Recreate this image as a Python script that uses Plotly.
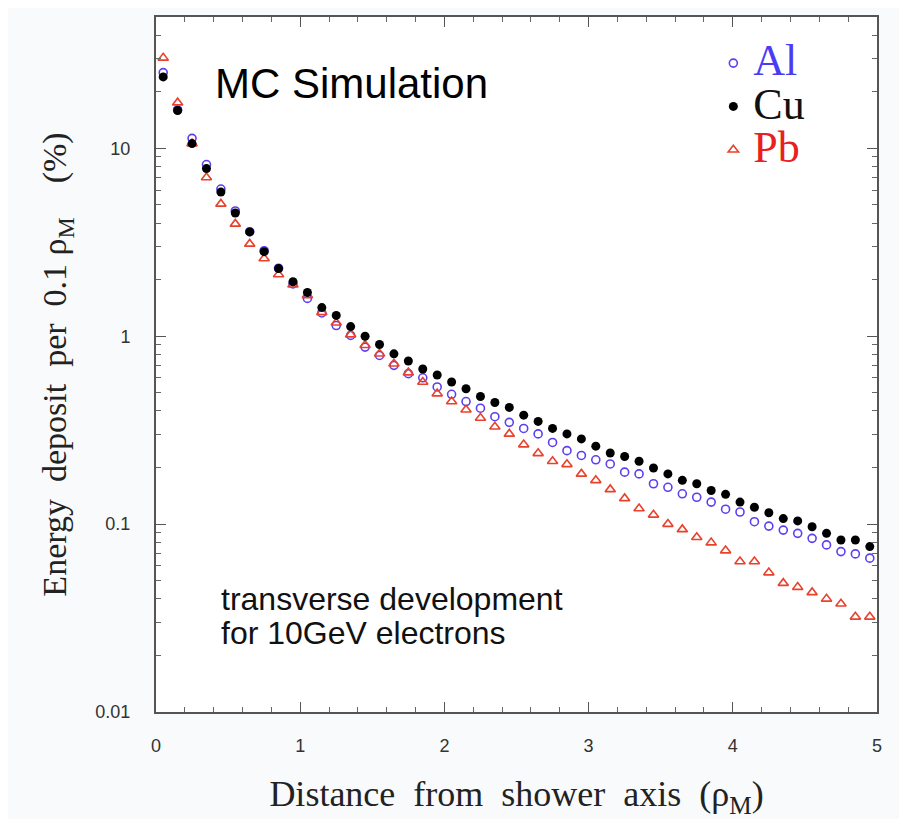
import plotly.graph_objects as go

# bin centres (units of Moliere radius)
distance = [0.05, 0.15, 0.25, 0.35, 0.45, 0.55, 0.65, 0.75, 0.85, 0.95,
            1.05, 1.15, 1.25, 1.35, 1.45, 1.55, 1.65, 1.75, 1.85, 1.95,
            2.05, 2.15, 2.25, 2.35, 2.45, 2.55, 2.65, 2.75, 2.85, 2.95,
            3.05, 3.15, 3.25, 3.35, 3.45, 3.55, 3.65, 3.75, 3.85, 3.95,
            4.05, 4.15, 4.25, 4.35, 4.45, 4.55, 4.65, 4.75, 4.85, 4.95]

al = [25.3, 16.0, 11.3, 8.2, 6.07, 4.64, 3.6, 2.85, 2.3, 1.9,
      1.59, 1.33, 1.14, 1.01, 0.875, 0.79, 0.70, 0.632, 0.601, 0.537,
      0.491, 0.449, 0.414, 0.373, 0.348, 0.323, 0.302, 0.272, 0.246, 0.232,
      0.220, 0.209, 0.189, 0.185, 0.164, 0.157, 0.145, 0.139, 0.131, 0.120,
      0.116, 0.103, 0.0976, 0.0929, 0.0893, 0.0840, 0.0775, 0.0714, 0.0694, 0.0659]

cu = [24.0, 15.9, 10.6, 7.8, 5.85, 4.53, 3.59, 2.82, 2.29, 1.95,
      1.71, 1.42, 1.29, 1.125, 1.0, 0.904, 0.806, 0.738, 0.669, 0.622,
      0.571, 0.525, 0.478, 0.444, 0.418, 0.380, 0.352, 0.323, 0.302, 0.284,
      0.260, 0.239, 0.229, 0.216, 0.199, 0.185, 0.171, 0.164, 0.151, 0.144,
      0.131, 0.123, 0.115, 0.107, 0.104, 0.0968, 0.0893, 0.0823, 0.0823, 0.0759]

pb = [30.3, 17.5, 10.6, 7.0, 5.06, 3.96, 3.1, 2.59, 2.13, 1.88,
      1.65, 1.34, 1.18, 1.02, 0.896, 0.806, 0.714, 0.64, 0.571, 0.495,
      0.449, 0.406, 0.367, 0.330, 0.302, 0.265, 0.238, 0.216, 0.208, 0.185,
      0.171, 0.153, 0.137, 0.121, 0.112, 0.100, 0.0937, 0.0851, 0.0797, 0.0723,
      0.0632, 0.0632, 0.0552, 0.0485, 0.0462, 0.0433, 0.0400, 0.0377, 0.0321, 0.0321]

x_ticks = [0, 1, 2, 3, 4, 5]
y_ticks = [0.01, 0.1, 1, 10]
y_tick_text = ["0.01", "0.1", "1", "10"]

AL_COL = "#5b3ff0"
CU_COL = "#000000"
PB_COL = "#e8412c"

fig = go.Figure()
fig.add_trace(go.Scatter(
    x=distance, y=al, mode="markers", legendrank=1,
    name="<span style='font-size:44px;color:#4a3cf2'>Al</span>",
    marker=dict(symbol="circle-open", size=8, color=AL_COL, line=dict(width=1.6, color=AL_COL))))
fig.add_trace(go.Scatter(
    x=distance, y=pb, mode="markers", legendrank=3,
    name="<span style='font-size:44px;color:#e82020'>Pb</span>",
    marker=dict(symbol="triangle-up-open", size=9, color=PB_COL, line=dict(width=1.6, color=PB_COL))))
fig.add_trace(go.Scatter(
    x=distance, y=cu, mode="markers", legendrank=2,
    name="<span style='font-size:44px;color:#111111'>Cu</span>",
    marker=dict(symbol="circle", size=9, color=CU_COL)))

axis_common = dict(
    showline=True, linecolor="#555555", linewidth=2, mirror="allticks",
    ticks="inside", tickcolor="#555555", showgrid=False, zeroline=False,
    tickfont=dict(family="Liberation Sans, Arial, sans-serif", size=18, color="#333333"),
)

fig.update_xaxes(
    range=[0, 5], tickvals=x_ticks, ticklen=10, tickwidth=1.2,
    ticklabelstandoff=16,
    minor=dict(dtick=0.2, ticks="inside", ticklen=5, tickcolor="#666666", tickwidth=1),
    title=dict(text="Distance  from  shower  axis  (ρ<sub>M</sub>)\u00a0\u00a0\u00a0",
               font=dict(family="Liberation Serif, Times New Roman, serif", size=36, color="#222222"),
               standoff=31),
    **axis_common)

fig.update_yaxes(
    type="log", range=[-2, 1.699], tickvals=y_ticks, ticktext=y_tick_text,
    ticklen=10, tickwidth=1.2, ticklabelstandoff=20,
    minor=dict(ticks="inside", ticklen=5, tickcolor="#666666", tickwidth=1,
               tickvals=[0.02, 0.03, 0.04, 0.05, 0.06, 0.07, 0.08, 0.09,
                         0.2, 0.3, 0.4, 0.5, 0.6, 0.7, 0.8, 0.9,
                         2, 3, 4, 5, 6, 7, 8, 9, 20, 30, 40]),
    title=dict(text="Energy  deposit  per  0.1 ρ<sub>M</sub>    (%)",
               font=dict(family="Liberation Serif, Times New Roman, serif", size=34, color="#222222"),
               standoff=18),
    **axis_common)

fig.add_annotation(xref="paper", yref="paper", x=0.079, y=0.905, xanchor="left", yanchor="middle",
                   text="MC Simulation", showarrow=False,
                   font=dict(family="Liberation Sans, Arial, sans-serif", size=42, color="#000000"))
fig.add_annotation(xref="paper", yref="paper", x=0.087, y=0.162, xanchor="left", yanchor="middle",
                   text="transverse development", showarrow=False,
                   font=dict(family="Liberation Sans, Arial, sans-serif", size=32, color="#111111"))
fig.add_annotation(xref="paper", yref="paper", x=0.087, y=0.113, xanchor="left", yanchor="middle",
                   text="for 10GeV electrons", showarrow=False,
                   font=dict(family="Liberation Sans, Arial, sans-serif", size=32, color="#111111"))

fig.add_shape(type="line", xref="paper", yref="paper", x0=1.033, x1=1.033, y0=-0.152, y1=1.022,
              line=dict(color="#8a8a8a", width=2))

fig.update_layout(
    width=899, height=811,
    margin=dict(l=148, r=30, t=7, b=106),
    paper_bgcolor="#f8fafb", plot_bgcolor="#ffffff",
    showlegend=True,
    legend=dict(x=0.773, y=0.972, xanchor="left", yanchor="top",
                bgcolor="rgba(0,0,0,0)", borderwidth=0,
                font=dict(family="Liberation Serif, Times New Roman, serif", size=31, color="#111111")),
)

fig.write_html("out.html")
